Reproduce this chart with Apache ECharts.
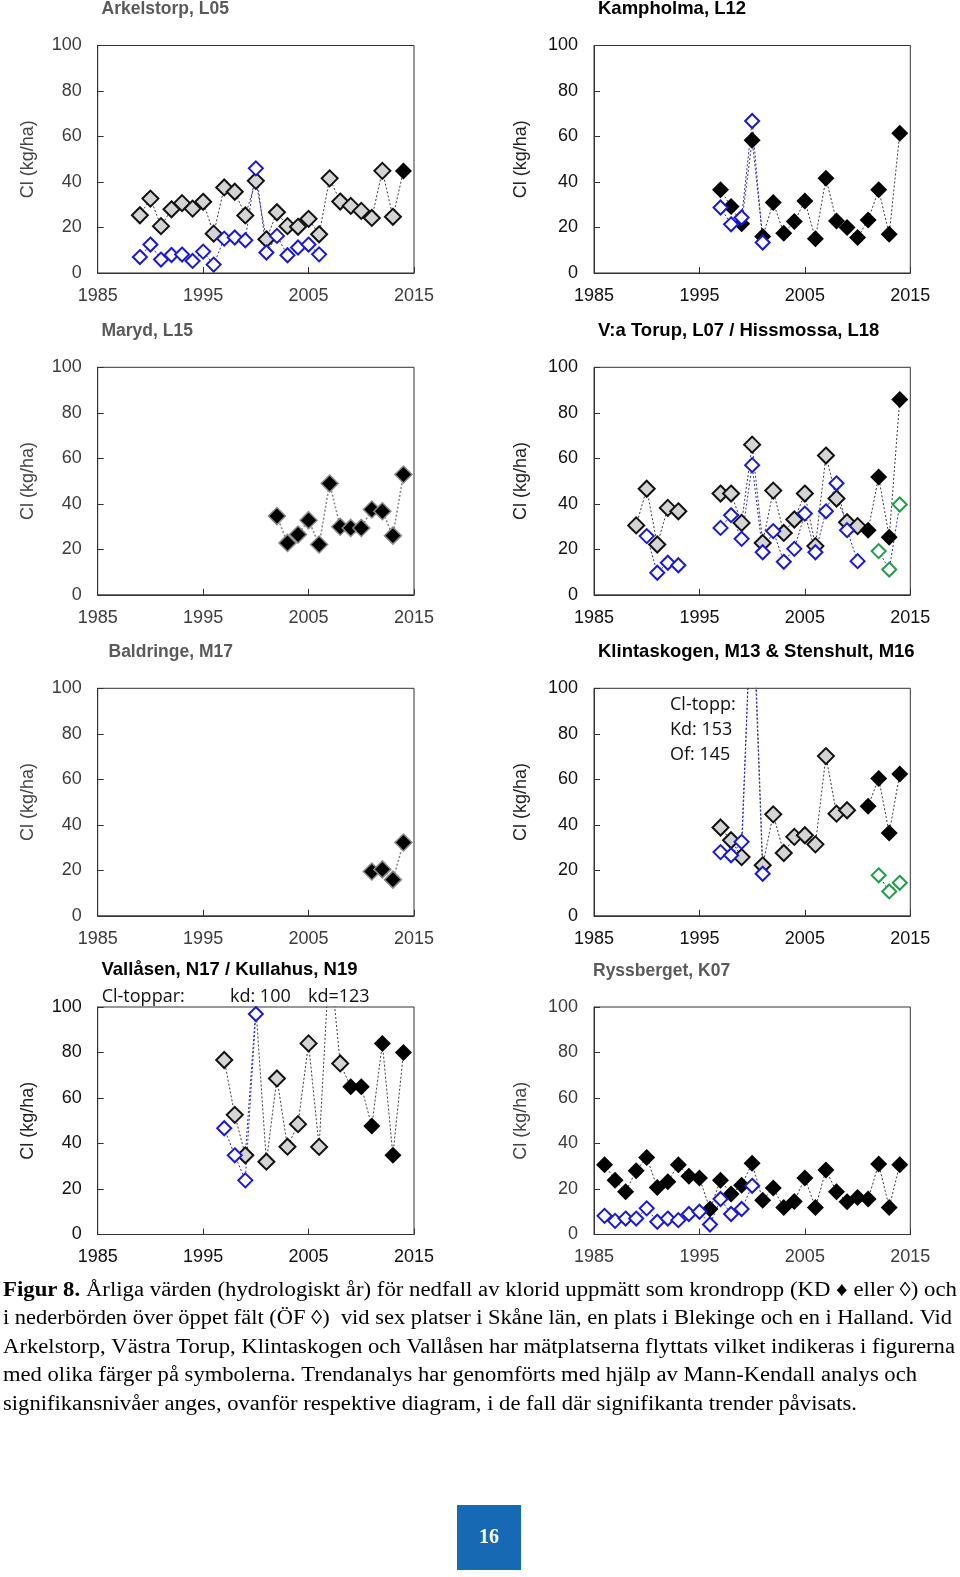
<!DOCTYPE html>
<html><head><meta charset="utf-8">
<script src="https://cdn.jsdelivr.net/npm/echarts@6/dist/echarts.min.js"></script>
<style>html,body{margin:0;padding:0;background:#fff}#c{width:960px;height:1577px}</style>
</head><body><div id="c"></div><script>
const _ = null;
// Hydrological years shared by all panels
const YEARS = [1986,1987,1988,1989, 1990,1991,1992,1993,1994, 1995,1996,1997,1998,1999, 2000,2001,2002,2003,2004, 2005,2006,2007,2008,2009, 2010,2011,2012,2013,2014];
const X_TICK_LABELS = [1985,1995,2005,2015];
const Y_TICK_LABELS = [0,20,40,60,80,100];

// Arkelstorp, L05
const ARK_KD_GRAY  = [_,_,_,25.4, 32.7,20.6,28,30.7,28.3, 31.3,17.3,37.6,35.7,25.3, 40.5,14.8,26.7,20.6,20.3, 23.8,17,41.6,31.4,29.5, 27.3,24.2,44.9,24.7,_];
const ARK_KD_BLACK = [_,_,_,_, _,_,_,_,_, _,_,_,_,_, _,_,_,_,_, _,_,_,_,_, _,_,_,_,44.8];
const ARK_OF_BLUE  = [_,_,_,7, 12.5,5.9,7.9,8.1,5.3, 9.4,3.7,15.1,15.6,14.4, 46,9,16.3,7.8,11.2, 12.5,8.2,_,_,_, _,_,_,_,_];
// Kampholma, L12
const KAM_KD_BLACK = [_,_,_,_, _,_,_,_,_, _,_,36.6,29.2,21.7, 58.3,16,31,17.5,22.6, 31.6,15.1,41.6,22.9,20, 15.6,23.3,36.6,17,61.4];
const KAM_OF_BLUE  = [_,_,_,_, _,_,_,_,_, _,_,28.8,21.4,24.4, 66.8,13.4,_,_,_, _,_,_,_,_, _,_,_,_,_];
// Maryd, L15
const MAR_KD_BLACK = [_,_,_,_, _,_,_,_,_, _,_,_,_,_, _,_,34.6,22.8,26.5, 32.8,22.1,48.9,29.9,29.4, 29.4,37.5,36.7,26,52.9];
// V:a Torup, L07 / Hissmossa, L18
const TOR_KD_GRAY  = [_,_,_,30.5, 46.6,22.1,38.2,36.7,_, _,_,44.5,44.5,31.6, 66,22.8,45.8,27.2,33.1, 44.5,21.4,61.2,42.3,31.9, 30.2,_,_,_,_];
const TOR_KD_BLACK = [_,_,_,_, _,_,_,_,_, _,_,_,_,_, _,_,_,_,_, _,_,_,_,_, _,28.4,51.8,25.3,85.8];
const TOR_OF_BLUE  = [_,_,_,_, 25.8,9.7,14.1,13,_, _,_,29.4,35,24.6, 57,18.7,28,14.5,20.2, 35.7,18.7,36.7,49,28.4, 14.8,_,_,_,_];
const TOR_OF_GREEN = [_,_,_,_, _,_,_,_,_, _,_,_,_,_, _,_,_,_,_, _,_,_,_,_, _,_,19.2,11.1,39.7];
// Baldringe, M17
const BAL_KD_BLACK = [_,_,_,_, _,_,_,_,_, _,_,_,_,_, _,_,_,_,_, _,_,_,_,_, _,19.5,20.4,15.9,32.2];
// Klintaskogen, M13 & Stenshult, M16
const KLI_KD_GRAY  = [_,_,_,_, _,_,_,_,_, _,_,38.8,33.2,25.8, 153,22.2,44.6,27.6,34.7, 35.4,31.4,70.2,44.9,46.4, _,_,_,_,_];
const KLI_KD_BLACK = [_,_,_,_, _,_,_,_,_, _,_,_,_,_, _,_,_,_,_, _,_,_,_,_, _,48.2,60.4,36.4,62.3];
const KLI_OF_BLUE  = [_,_,_,_, _,_,_,_,_, _,_,28,26.6,32.5, 145,18.5,_,_,_, _,_,_,_,_, _,_,_,_,_];
const KLI_OF_GREEN = [_,_,_,_, _,_,_,_,_, _,_,_,_,_, _,_,_,_,_, _,_,_,_,_, _,_,17.8,10.7,14.5];
// Vallåsen, N17 / Kullahus, N19
const VAL_KD_GRAY  = [_,_,_,_, _,_,_,_,_, _,_,76.7,52.6,34.8, 100,32,68.6,38.6,48.5, 84,38.5,123,75.2,_, _,_,_,_,_];
const VAL_KD_BLACK = [_,_,_,_, _,_,_,_,_, _,_,_,_,_, _,_,_,_,_, _,_,_,_,64.9, 64.9,47.7,84,34.8,80];
const VAL_OF_BLUE  = [_,_,_,_, _,_,_,_,_, _,_,46.7,34.8,23.8, 96.9,_,_,_,_, _,_,_,_,_, _,_,_,_,_];
// Ryssberget, K07
const RYS_KD_BLACK = [30.7,23.9,18.8,28, 33.9,20.7,23.2,30.7,25.6, 24.8,11.2,23.9,17.8,21.7, 31.3,15.1,20.4,11.9,14.5, 24.8,11.9,28.3,18.8,14.4, 16.3,15.6,31,11.9,30.7];
const RYS_OF_BLUE  = [8.2,6,7,7, 11.5,5.6,7,6.3,9, 10,4.4,15.6,9,11.2, 21.4,_,_,_,_, _,_,_,_,_, _,_,_,_,_];

const TITLES = ['Arkelstorp, L05','Kampholma, L12','Maryd, L15','V:a Torup, L07 / Hissmossa, L18','Baldringe, M17','Klintaskogen, M13 & Stenshult, M16','Vallåsen, N17 / Kullahus, N19','Ryssberget, K07'];
const Y_NAME = 'Cl (kg/ha)';
const NOTE_KLINT = ['Cl-topp:','Kd: 153','Of: 145'];
const NOTE_VALL = ['Cl-toppar:','kd: 100','kd=123'];
const CAPTION_BOLD = 'Figur 8.';
const CAPTION = [
  ' Årliga värden (hydrologiskt år) för nedfall av klorid uppmätt som krondropp (KD \u2666 eller \u25CA) och',
  'i nederbörden över öppet fält (ÖF \u25CA)  vid sex platser i Skåne län, en plats i Blekinge och en i Halland. Vid',
  'Arkelstorp, Västra Torup, Klintaskogen och Vallåsen har mätplatserna flyttats vilket indikeras i figurerna',
  'med olika färger på symbolerna. Trendanalys har genomförts med hjälp av Mann-Kendall analys och',
  'signifikansnivåer anges, ovanför respektive diagram, i de fall där signifikanta trender påvisats.'
];
const PAGE_NO = '16';

// ---------- layout ----------
const COLS = [97.7, 594];
const ROWS = [45.5, 367.3, 688.3, 1007];
const GW = 316.3, GH = 227.5;
const PANELS = [
  {t:0, c:0, r:0, soft:true,  tx:101.5, ty:9,   kg:ARK_KD_GRAY, kb:ARK_KD_BLACK, ob:ARK_OF_BLUE, og:null},
  {t:1, c:1, r:0, soft:false, tx:598,   ty:9,   kg:null, kb:KAM_KD_BLACK, ob:KAM_OF_BLUE, og:null},
  {t:2, c:0, r:1, soft:true,  tx:101.5, ty:331, kg:null, kb:MAR_KD_BLACK, ob:null, og:null, halo:true},
  {t:3, c:1, r:1, soft:false, tx:598,   ty:331, kg:TOR_KD_GRAY, kb:TOR_KD_BLACK, ob:TOR_OF_BLUE, og:TOR_OF_GREEN},
  {t:4, c:0, r:2, soft:true,  tx:108.5, ty:652, kg:null, kb:BAL_KD_BLACK, ob:null, og:null, halo:true},
  {t:5, c:1, r:2, soft:false, tx:598,   ty:652, kg:KLI_KD_GRAY, kb:KLI_KD_BLACK, ob:KLI_OF_BLUE, og:KLI_OF_GREEN},
  {t:6, c:0, r:3, soft:false, tx:101.5, ty:970, kg:VAL_KD_GRAY, kb:VAL_KD_BLACK, ob:VAL_OF_BLUE, og:null},
  {t:7, c:1, r:3, soft:true,  tx:593,   ty:971, kg:null, kb:RYS_KD_BLACK, ob:RYS_OF_BLUE, og:null}
];

const YMAX = Y_TICK_LABELS[Y_TICK_LABELS.length-1];
function merge(a,b){ return YEARS.map((y,i)=> (a && a[i]!=null) ? a[i] : (b ? b[i] : null)); }
function lineData(arr){ return YEARS.map((y,i)=>[y, arr[i]==null ? '-' : arr[i]]); }
function ptData(arr){
  const out=[];
  YEARS.forEach((y,i)=>{ const v=arr[i]; if(v==null) return;
    out.push(v>=YMAX ? {value:[y,v], symbolSize:0} : [y,v]); });
  return out;
}

const grids=[], xAxes=[], yAxes=[], series=[], graphics=[];
PANELS.forEach((p,k)=>{
  const left = COLS[p.c], top = ROWS[p.r];
  const labCol = p.soft ? '#3c3c3c' : '#111';
  grids.push({left:left, top:top, width:GW, height:GH, show:true, borderColor:'#333', borderWidth:1, containLabel:false});
  xAxes.push({type:'value', gridIndex:k, min:X_TICK_LABELS[0], max:X_TICK_LABELS[X_TICK_LABELS.length-1], interval:10,
    axisLine:{show:true, lineStyle:{color:'#333'}}, axisTick:{show:true, inside:true, length:6, lineStyle:{color:'#333'}},
    splitLine:{show:false}, axisLabel:{color:labCol, fontSize:18, fontFamily:'Liberation Sans', margin:14, formatter:v=>String(v), showMinLabel:true, showMaxLabel:true}});
  yAxes.push({type:'value', gridIndex:k, min:0, max:YMAX, interval:20,
    axisLine:{show:true, lineStyle:{color:'#333'}}, axisTick:{show:true, inside:true, length:6, lineStyle:{color:'#333'}},
    splitLine:{show:false}, axisLabel:{color:labCol, fontSize:18, fontFamily:'Liberation Sans', margin:16},
    name:Y_NAME, nameLocation:'middle', nameRotate:90, nameGap: p.c===0 ? 61 : 64,
    nameTextStyle:{color: p.soft ? '#444' : '#222', fontSize:18, fontFamily:'Liberation Sans'}});
  const kdLineColor = p.halo ? '#8a8a8a' : '#3a3a3a';
  series.push({type:'line', xAxisIndex:k, yAxisIndex:k, symbol:'none', clip:true, z:2,
    data:lineData(merge(p.kg,p.kb)), lineStyle:{color:kdLineColor, width:p.halo?1.6:1, type:[2,2]}});
  if(p.ob) series.push({type:'line', xAxisIndex:k, yAxisIndex:k, symbol:'none', clip:true, z:2,
    data:lineData(merge(p.ob,p.og)), lineStyle:{color:'#2a2ad6', width:1, type:[2,2]}});
  if(p.kg) series.push({type:'scatter', xAxisIndex:k, yAxisIndex:k, symbol:'diamond', symbolSize:16, clip:true, z:3,
    data:ptData(p.kg), itemStyle:{color:'#d4d4d4', borderColor:'#111', borderWidth:2, opacity:1}});
  if(p.kb) series.push({type:'scatter', xAxisIndex:k, yAxisIndex:k, symbol:'diamond', symbolSize:17, clip:true, z:3,
    data:ptData(p.kb), itemStyle:{color:'#000', borderColor:p.halo?'#8a8a8a':'#000', borderWidth:p.halo?1.5:0, opacity:1}});
  if(p.ob) series.push({type:'scatter', xAxisIndex:k, yAxisIndex:k, symbol:'diamond', symbolSize:14, clip:true, z:4,
    data:ptData(p.ob), itemStyle:{color:'#fff', borderColor:'#1a1ad2', borderWidth:2, opacity:1}});
  if(p.og) series.push({type:'scatter', xAxisIndex:k, yAxisIndex:k, symbol:'diamond', symbolSize:14, clip:true, z:4,
    data:ptData(p.og), itemStyle:{color:'#fff', borderColor:'#1f9e4a', borderWidth:2, opacity:1}});
  graphics.push({type:'text', x:p.tx, y:p.ty, z:10, style:{text:TITLES[p.t], font:'bold '+(p.soft?'17.5px':'18.5px')+' "Liberation Sans"',
    fill:p.soft?'#5a5a5a':'#000', textAlign:'left', textVerticalAlign:'middle'}});
});

// annotations
const NOTE_FONT = '18px "Open Sans"';
NOTE_KLINT.forEach((s,i)=>graphics.push({type:'text', x:670, y:705+i*25, z:10, style:{text:s, font:NOTE_FONT, fill:'#111', textVerticalAlign:'middle'}}));
[101.7, 230, 308].forEach((x,i)=>graphics.push({type:'text', x:x, y:996.5, z:10, style:{text:NOTE_VALL[i], font:NOTE_FONT, fill:'#111', textVerticalAlign:'middle'}}));

// caption, each line fitted to the reference line width
const mctx = document.createElement('canvas').getContext('2d');
function tw(t,f){ mctx.font=f; return mctx.measureText(t).width; }
const CF = '20px "Liberation Serif"', CFB = 'bold 20px "Liberation Serif"';
const CAP_Y = [1290.7, 1318.9, 1347.6, 1376, 1404.3];
const CAP_W = [954, 949, 952, 914, 854];
CAPTION.forEach((s,i)=>{
  let w = tw(s, CF); let wb = 0;
  if(i===0){ wb = tw(CAPTION_BOLD, CFB); w += wb; }
  const sc = CAP_W[i]/w;
  if(i===0) graphics.push({type:'text', x:3, y:CAP_Y[i], scaleX:sc, style:{text:CAPTION_BOLD, font:CFB, fill:'#000', textVerticalAlign:'middle'}});
  graphics.push({type:'text', x:3+wb*sc, y:CAP_Y[i], scaleX:sc, style:{text:s, font:CF, fill:'#000', textVerticalAlign:'middle'}});
});
// page number
graphics.push({type:'rect', shape:{x:457, y:1505, width:64, height:65}, style:{fill:'#1769b3'}});
graphics.push({type:'text', x:489, y:1538, z:10, style:{text:PAGE_NO, font:'bold 20px "Liberation Serif"', fill:'#fff', textAlign:'center', textVerticalAlign:'middle'}});

const chart = echarts.init(document.getElementById('c'), null, {renderer:'canvas'});
chart.setOption({animation:false, backgroundColor:'#fff', grid:grids, xAxis:xAxes, yAxis:yAxes, series:series, graphic:graphics});
</script></body></html>
